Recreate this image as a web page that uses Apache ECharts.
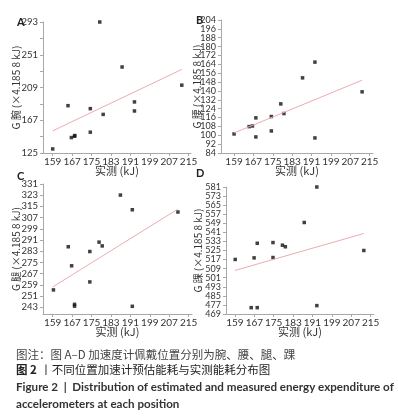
<!DOCTYPE html>
<html>
<head>
<meta charset="utf-8">
<script src="https://cdn.jsdelivr.net/npm/echarts@6/dist/echarts.min.js"></script>
<style>
  html, body { margin: 0; padding: 0; background: #fff; }
  #chart { width: 398px; height: 416px; }
</style>
</head>
<body>
<div id="chart"></div>
<script>
// measured energy (x) and estimated energy (y) per wearing position
const xWrist = [159, 165.3, 166.7, 168, 168.1, 174.5, 174.5, 178.4, 179.8, 187.6, 192.7, 192.7, 212.2];
const yWrist = [130.2, 185.7, 144.8, 146.5, 147.4, 181.9, 151.7, 293, 174.5, 235.3, 190.5, 178.9, 212.0];
const xWaist = [159, 165.2, 166.6, 168, 168, 174.4, 174.4, 178.3, 179.6, 187.3, 192.4, 192.4, 211.9];
const yWaist = [101.2, 107.8, 108.4, 115.7, 98.5, 116.9, 103.9, 128.3, 119.6, 151.8, 166.0, 97.6, 139.2];
const xLeg = [159.3, 165.4, 166.8, 168, 168, 174.3, 174.3, 178.1, 179.4, 186.9, 191.8, 191.8, 210.6];
const yLeg = [255.4, 286.2, 272.6, 245.1, 243.8, 282.8, 261.1, 289.5, 286.8, 323.1, 312.6, 243.7, 311];
const xAnkle = [159.1, 165.7, 166.9, 168.2, 168.2, 174.7, 174.7, 178.6, 179.8, 187.6, 192.8, 192.8, 212.2];
const yAnkle = [517.1, 474.6, 518.5, 531.4, 474.6, 532, 518.8, 529.7, 528.3, 549.7, 581, 476.4, 525];

// fitted lines (end points)
const fitWrist = [[159, 153.4], [212.3, 232.3]];
const fitWaist = [[159, 102.1], [211.9, 149.7]];
const fitLeg = [[159, 257.5], [210.5, 313]];
const fitAnkle = [[159, 507.4], [212.2, 540]];

// tick labels
const xTicks = [159, 167, 175, 183, 191, 199, 207, 215];
const yTicksA = [125, 167, 209, 251, 293];
const yMinorA = [146, 188, 230, 272];
const yTicksB = [84, 92, 100, 108, 116, 124, 132, 140, 148, 156, 164, 172, 180, 188, 196, 204];
const yTicksC = [243, 251, 259, 267, 275, 283, 291, 299, 307, 315, 323, 331];
const yTicksD = [469, 477, 485, 493, 501, 509, 517, 525, 533, 541, 549, 557, 565, 573, 581];

const panelNames = ['腕', '腰', '腿', '踝'];
const panelLetters = ['A', 'B', 'C', 'D'];

const numFont = 'Lato, "Noto Sans CJK SC", sans-serif';
const cjkFont = '"Noto Sans CJK SC", sans-serif';
const axisGray = '#a8a8a8';

const panels = [
  { grid: { left: 43, top: 22, width: 148, height: 131 }, xr: [155, 216], yr: [125, 293], yt: yTicksA, ym: yMinorA, gap: 22, fs: 9.5, xs: xWrist, ys: yWrist, fit: fitWrist },
  { grid: { left: 221, top: 20, width: 152, height: 133 }, xr: [153.6, 216.4], yr: [84, 204], yt: yTicksB, ym: [], gap: 19, fs: 9, xs: xWaist, ys: yWaist, fit: fitWaist },
  { grid: { left: 43, top: 184, width: 149, height: 130 }, xr: [155, 216.4], yr: [238.2, 331], yt: yTicksC, ym: [], gap: 22, fs: 9.5, xs: xLeg, ys: yLeg, fit: fitLeg },
  { grid: { left: 226, top: 187, width: 148, height: 127 }, xr: [155.3, 216.4], yr: [469, 581], yt: yTicksD, ym: [], gap: 23, fs: 9, xs: xAnkle, ys: yAnkle, fit: fitAnkle }
];

const grids = [], xAxes = [], yAxes = [], series = [], graphics = [];

panels.forEach((p, i) => {
  grids.push(Object.assign({ containLabel: false, outerBoundsMode: 'none' }, p.grid));
  xAxes.push({
    type: 'value', gridIndex: i, min: p.xr[0], max: p.xr[1],
    name: '实测 (kJ)', nameLocation: 'middle', nameGap: 12, nameMoveOverlap: false,
    nameTextStyle: { fontFamily: cjkFont, fontSize: 11, color: '#333' },
    axisLine: { show: true, onZero: false, lineStyle: { color: axisGray } },
    axisTick: { show: true, length: 3, customValues: xTicks, lineStyle: { color: axisGray } },
    axisLabel: { customValues: xTicks, fontFamily: numFont, fontSize: 10, color: '#333', margin: 4, hideOverlap: false },
    splitLine: { show: false }
  });
  yAxes.push({
    type: 'value', gridIndex: i, min: p.yr[0], max: p.yr[1],
    name: 'G ' + panelNames[i] + ' (×4.185 8 kJ)', nameLocation: 'middle', nameGap: p.gap, nameMoveOverlap: false,
    nameTextStyle: { fontFamily: cjkFont, fontSize: 10, color: '#333' },
    axisLine: { show: true, onZero: false, lineStyle: { color: axisGray } },
    axisTick: { show: true, length: 3, customValues: p.yt.concat(p.ym), lineStyle: { color: axisGray } },
    axisLabel: {
      customValues: p.yt, fontFamily: numFont, fontSize: p.fs, lineHeight: 7, color: '#333', margin: 5,
      hideOverlap: false, showMinLabel: true, showMaxLabel: true
    },
    splitLine: { show: false }
  });
  series.push({
    type: 'line', xAxisIndex: i, yAxisIndex: i, data: p.fit,
    symbol: 'none', silent: true,
    lineStyle: { color: '#eeabb2', width: 1 }
  });
  series.push({
    type: 'scatter', xAxisIndex: i, yAxisIndex: i,
    data: p.xs.map((x, k) => [x, p.ys[k]]),
    symbol: 'rect', symbolSize: 3.5,
    itemStyle: { color: '#111' }
  });
});

// panel letters
const letterPos = [[17, 17], [196, 15], [17, 171], [196, 168]];
letterPos.forEach((pos, i) => {
  graphics.push({
    type: 'text', left: pos[0], top: pos[1],
    style: { text: panelLetters[i], font: 'bold 11px ' + numFont, fill: '#222' }
  });
});

// caption lines
graphics.push({
  type: 'text', left: 16, top: 349,
  style: { text: '图注：图 A–D 加速度计佩戴位置分别为腕、腰、腿、踝', font: '11.5px ' + cjkFont, fill: '#444' }
});
graphics.push({
  type: 'text', left: 16, top: 364,
  style: {
    text: '{b|图 2} {n|丨不同位置加速计预估能耗与实测能耗分布图}',
    rich: {
      b: { fontFamily: cjkFont, fontSize: 11.5, fontWeight: 'bold', fill: '#222' },
      n: { fontFamily: cjkFont, fontSize: 11.5, fill: '#222' }
    }
  }
});
graphics.push({
  type: 'text', left: 16, top: 381,
  style: { text: 'Figure 2  |  Distribution of estimated and measured energy expenditure of', font: 'bold 11.6px ' + numFont, fill: '#333' }
});
graphics.push({
  type: 'text', left: 16, top: 398,
  style: { text: 'accelerometers at each position', font: 'bold 11.6px ' + numFont, fill: '#333' }
});

const chart = echarts.init(document.getElementById('chart'), null, { renderer: 'canvas' });
chart.setOption({
  animation: false,
  backgroundColor: '#fff',
  grid: grids,
  xAxis: xAxes,
  yAxis: yAxes,
  series: series,
  graphic: graphics
});
</script>
</body>
</html>
